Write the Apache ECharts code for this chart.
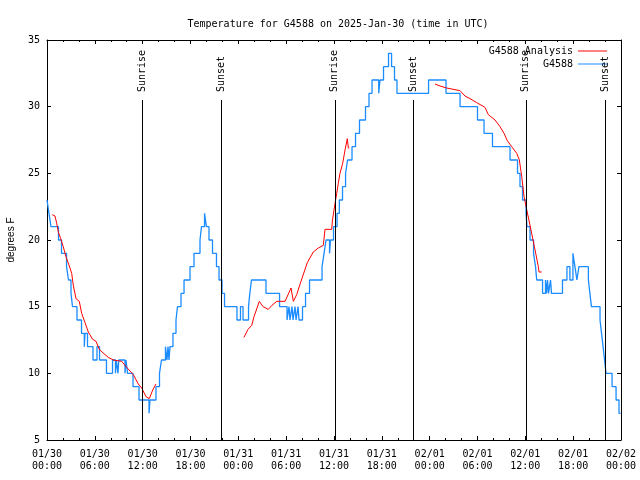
<!DOCTYPE html>
<html>
<head>
<meta charset="utf-8">
<script src="https://cdn.jsdelivr.net/npm/echarts@6/dist/echarts.min.js"></script>
<style>html,body{margin:0;padding:0;background:#fff;}#c{width:640px;height:480px;}</style>
</head>
<body>
<div id="c"></div>
<script>
// hours since 2025-01-30 00:00 UTC
const blueHours = [0.0,0.25,0.5,1.44,1.82,2.45,2.7,3.01,3.2,3.76,4.33,4.68,4.77,5.08,5.77,6.27,6.59,7.46,8.22,8.59,8.69,8.9,9.0,9.78,9.91,10.1,10.79,11.54,12.8,12.92,13.67,14.11,14.36,14.86,15.05,15.18,15.3,15.43,15.8,16.18,16.37,16.81,17.19,17.94,18.44,19.19,19.38,19.76,20.0,20.32,20.76,21.26,21.58,21.95,22.27,23.83,24.27,24.59,25.28,25.44,25.65,27.47,29.17,30.11,30.36,30.48,30.73,30.86,31.11,31.24,31.49,31.61,32.05,32.43,32.93,34.5,34.75,35.0,35.44,35.56,35.94,36.38,36.67,37.07,37.45,37.7,38.26,38.7,39.2,39.95,40.39,40.77,41.61,41.77,42.21,42.84,43.22,43.59,43.9,47.86,50.05,51.81,54.0,54.82,55.88,58.08,59.02,59.33,59.65,60.09,60.21,60.59,61.03,61.28,61.43,62.16,62.53,62.66,62.78,62.91,63.16,63.28,64.66,65.22,65.59,65.97,66.22,66.47,66.72,67.91,68.1,68.29,69.37,69.56,69.75,69.94,70.12,70.88,71.38,71.75,71.94];
const blueTemps = [23,22,21,20,19,18,17,16,15,14,13,12,13,12,11,12,11,10,11,10,11,10,11,10,11,10,9,8,7,8,9,10,11,12,11,12,11,12,13,14,15,16,17,18,19,20,21,22,21,20,19,18,17,16,15,14,15,14,15,16,17,16,15,14,15,14,15,14,15,14,15,14,15,16,17,18,19,20,19,20,21,22,23,24,25,26,27,28,29,30,31,32,31,32,33,34,33,32,31,32,31,30,29,28,27,26,25,24,23,22,21,20,19,18,17,16,17,16,17,16,17,16,17,18,17,19,18,17,18,17,16,15,14,13,12,11,10,9,8,7,7];

const redHours = [0.66,1.0,1.22,1.42,1.72,2.04,2.38,2.8,3.1,3.3,3.64,4.05,4.35,4.77,5.18,5.73,6.15,6.56,7.28,7.69,8.32,9.37,10.07,10.83,11.45,11.88,12.42,12.83,13.26,13.67,
  20.0,
  24.71,25.21,25.68,25.97,26.63,27.1,27.76,28.22,28.81,29.86,30.61,30.9,31.32,31.86,32.65,33.4,34.03,34.66,34.87,35.71,35.81,36.13,36.34,36.54,36.75,37.09,37.38,37.67,37.8,37.92,
  44.0,
  48.67,49.3,50.14,51.81,52.43,53.06,53.9,54.94,55.36,56.2,56.83,57.33,57.74,58.29,58.92,59.25,59.55,59.84,60.18,60.71,61.22,61.63,61.72,62.06];
const redTemps = [21.9,21.8,21.25,20.6,20.1,19.5,18.75,18.05,17.5,16.6,15.6,15.4,14.5,13.8,13.1,12.55,12.4,11.8,11.4,11.2,11.0,10.9,10.4,9.9,9.2,8.9,8.25,8.1,8.75,9.2,
  null,
  12.7,13.3,13.6,14.25,15.4,15.0,14.8,15.1,15.4,15.4,16.4,15.4,15.9,16.9,18.3,19.1,19.4,19.6,20.8,20.8,21.5,22.75,23.5,24.25,25.0,25.75,26.75,27.6,26.9,26.9,
  null,
  31.7,31.55,31.4,31.2,30.8,30.6,30.3,29.95,29.4,29.0,28.5,28.0,27.45,27.0,26.5,26.0,24.75,23.25,22.25,20.75,19.25,18.0,17.6,17.6];

const sunNames = ['Sunrise','Sunset','Sunrise','Sunset','Sunrise','Sunset'];
const sunHours = [12.0,21.87,36.1,45.93,60.07,70.02];

const xTickLabels = ['01/30\n00:00','01/30\n06:00','01/30\n12:00','01/30\n18:00','01/31\n00:00','01/31\n06:00','01/31\n12:00','01/31\n18:00','02/01\n00:00','02/01\n06:00','02/01\n12:00','02/01\n18:00','02/02\n00:00'];
const yTicks = [5,10,15,20,25,30,35];

const titleText = 'Temperature for G4588 on 2025-Jan-30 (time in UTC)';
const yName = 'degrees F';

const mono = 'DejaVu Sans Mono';
const lineTop = 30.5, labelBottom = 31.1;

const chart = echarts.init(document.getElementById('c'), null, {renderer:'canvas'});

const sunLineData = sunHours.map(h => [{coord:[h,yTicks[0]]},{coord:[h,lineTop]}]);
const sunLabelData = sunHours.map((h,i) => [{coord:[h,labelBottom], name:sunNames[i]},{coord:[h,yTicks[yTicks.length-1]]}]);

const xAxisBase = {
  type:'value', min:0, max:72, interval:6,
  axisLine:{show:true, onZero:false, lineStyle:{color:'#000', width:1}},
  axisTick:{show:true, inside:true, length:4, lineStyle:{color:'#000'}},
  minorTick:{show:true, splitNumber:3, length:2, lineStyle:{color:'#000'}},
  splitLine:{show:false}, minorSplitLine:{show:false}
};
const yAxisBase = {
  type:'value', min:5, max:35, interval:5,
  axisLine:{show:true, onZero:false, lineStyle:{color:'#000', width:1}},
  axisTick:{show:true, inside:true, length:4, lineStyle:{color:'#000'}},
  splitLine:{show:false}
};

chart.setOption({
  animation:false,
  backgroundColor:'#fff',
  title:{text:titleText, left:333, top:14, textAlign:'center',
    textStyle:{fontFamily:mono, fontSize:10, fontWeight:'normal', color:'#000'}},
  grid:{left:47, right:19, top:40, bottom:40, containLabel:false, outerBoundsMode:'none'},
  legend:[
    {data:['G4588 Analysis'], right:28, top:41, align:'right', icon:'rect', itemWidth:29, itemHeight:1,
      textStyle:{fontFamily:mono, fontSize:10, color:'#000'}, selectedMode:false},
    {data:['G4588'], right:28, top:54, align:'right', icon:'rect', itemWidth:29, itemHeight:1,
      textStyle:{fontFamily:mono, fontSize:10, color:'#000'}, selectedMode:false}
  ],
  xAxis:[
    Object.assign({}, xAxisBase, {position:'bottom',
      axisLabel:{show:true, margin:8, lineHeight:12, fontFamily:mono, fontSize:10, color:'#000',
        formatter:v => xTickLabels[Math.round(v/6)]}}),
    Object.assign({}, xAxisBase, {position:'top', axisLabel:{show:false}})
  ],
  yAxis:[
    Object.assign({}, yAxisBase, {position:'left', name:yName, nameLocation:'middle', nameGap:31,
      nameTextStyle:{fontFamily:'Liberation Sans', fontSize:10, color:'#000'},
      axisLabel:{show:true, margin:7, fontFamily:mono, fontSize:10, color:'#000'}}),
    Object.assign({}, yAxisBase, {position:'right', axisLabel:{show:false}})
  ],
  series:[
    {name:'G4588 Analysis', type:'line', xAxisIndex:0, yAxisIndex:0, showSymbol:false, symbol:'none',
      connectNulls:false, color:'#ff0000', lineStyle:{color:'#ff0000', width:1},
      data:redHours.map((h,i)=>[h, redTemps[i]]), z:3},
    {name:'G4588', type:'line', xAxisIndex:0, yAxisIndex:0, showSymbol:false, symbol:'none', step:'end',
      color:'#1a8cff', lineStyle:{color:'#1a8cff', width:1.3},
      data:blueHours.map((h,i)=>[h, blueTemps[i]]), z:2},
    {name:'sun', type:'line', xAxisIndex:0, yAxisIndex:0, data:[], z:4,
      markLine:{silent:true, symbol:['none','none'], animation:false,
        lineStyle:{color:'#000', width:1, type:'solid'},
        label:{show:false},
        data:sunLineData}},
    {name:'sunlbl', type:'line', xAxisIndex:0, yAxisIndex:0, data:[], z:4,
      markLine:{silent:true, symbol:['none','none'], animation:false,
        lineStyle:{color:'rgba(0,0,0,0)', width:1},
        label:{show:true, position:'insideStart', distance:0, formatter:'{b}',
          fontFamily:mono, fontSize:10, color:'#000'},
        data:sunLabelData}}
  ]
});
</script>
</body>
</html>
